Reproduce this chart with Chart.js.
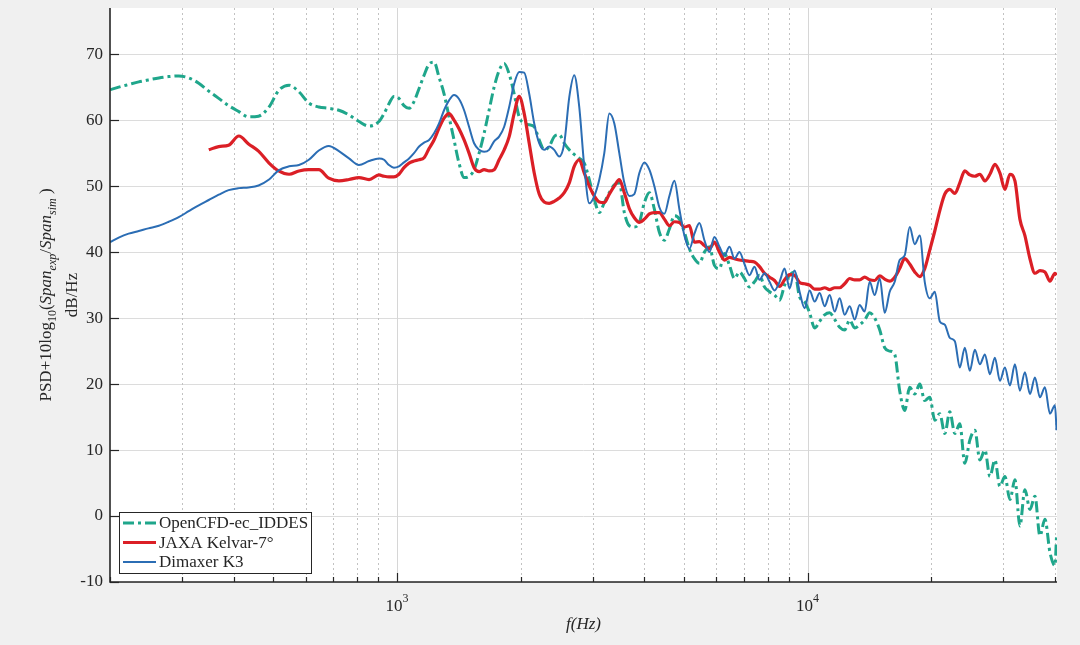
<!DOCTYPE html>
<html>
<head>
<meta charset="utf-8">
<script src="https://cdn.jsdelivr.net/npm/chart.js@4.4.0/dist/chart.umd.min.js"></script>
<style>
  html, body { margin: 0; padding: 0; background: #f0f0f0; }
  #wrap { width: 1080px; height: 645px; }
</style>
</head>
<body>
<div id="wrap"><canvas id="psdChart" width="1080" height="645"></canvas></div>
<script>
// frequency grid (Hz), shared by the three spectra
const freqHz = [
  200, 210, 222, 235, 248, 263, 278, 294, 311, 329, 348, 368, 389, 412, 435, 460, 488, 515, 546, 577,
  610, 645, 682, 722, 764, 808, 855, 904,
  930, 956, 983, 1011, 1040, 1070, 1100, 1132, 1164, 1197, 1231, 1266, 1302, 1339, 1377, 1416, 1457, 1498,
  1541, 1585, 1630, 1676, 1724, 1773, 1824, 1876, 1929, 1984, 2041, 2099, 2159, 2220, 2283, 2348, 2415,
  2484, 2555, 2628, 2702, 2779, 2858, 2940, 3024, 3110, 3198, 3289, 3383, 3479, 3578, 3680, 3785, 3893,
  4004, 4118, 4235, 4355, 4479, 4607, 4738, 4873, 5012, 5154, 5301, 5452, 5607, 5767, 5931, 6101, 6274,
  6453, 6637, 6823, 7019, 7219, 7425, 7638, 7855, 8079, 8309, 8547, 8790, 9040, 9298, 9562, 9835, 10115,
  10403, 10700, 11004, 11318, 11640, 11970, 12312, 12663, 13023, 13390, 13773, 14165, 14568, 14990, 15410,
  15850, 16300, 16760, 17240, 17730, 18240, 18760, 19290, 19840, 20410, 20990, 21590, 22200, 22840, 23480,
  24150, 24840, 25550, 26280, 27030, 27800, 28590, 29400, 30240, 31100, 31990, 32890, 33830, 34800, 35790,
  36800, 37850, 38930, 40040, 40400
];

const cfdPsd = [
  64.6, 65.0, 65.4, 65.8, 66.1, 66.4, 66.6, 66.7, 66.4, 65.6, 64.4, 63.3, 62.2, 61.3, 60.5, 60.6, 62.0, 64.5, 65.3, 64.3,
  62.6, 62.0, 61.8, 61.5, 60.8, 59.8, 59.1, 59.8,
  61.0, 62.5, 63.6, 63.3, 62.2, 61.8, 62.8, 64.8, 66.8, 68.5, 68.8, 66.5, 64.0, 60.5, 57.0, 53.5, 51.3, 51.5,
  52.5, 55.0, 58.0, 61.5, 65.0, 67.5, 68.6, 67.0, 64.0, 60.5, 59.5, 59.3, 59.0, 57.0, 55.5, 56.0, 57.5,
  57.8, 56.5, 55.5, 54.8, 54.2, 53.5, 51.0, 48.0, 46.0, 47.5, 49.0, 50.2, 50.5, 46.0, 44.0, 43.8, 44.5,
  47.5, 49.0, 46.5, 43.0, 41.8, 43.5, 45.5, 45.0, 43.0, 40.5, 39.0, 38.3, 40.0, 40.8, 38.0, 37.5, 39.8,
  38.0, 36.0, 37.0, 36.0, 34.7, 35.5, 36.5, 34.7, 34.0, 33.5, 32.7, 35.0, 36.5, 37.0, 33.2, 32.5, 30.8,
  28.5, 29.5, 30.5, 30.8, 29.8, 28.6, 28.2, 29.7, 28.5, 29.0, 29.7, 30.8, 30.0, 28.2, 25.5,
  25.0, 24.5, 19.0, 16.0, 19.5, 18.5, 20.0, 17.5, 18.0, 14.5, 15.5, 12.5, 15.8, 12.5, 14.0,
  8.0, 11.5, 13.0, 8.5, 10.0, 6.0, 8.5, 4.5, 6.0, 2.5, 5.5, -1.5, 4.0, 1.0, 3.0,
  -3.0, -0.5, -5.5, -7.5, -3.0
];

const jaxaPsd = [
  null, null, null, null, null, null, null, null, null, null, 55.5, 56.0, 56.2, 57.6, 56.4, 55.3, 53.5, 52.3, 51.8, 52.3,
  52.5, 52.5, 51.2, 50.8, 51.0, 51.3, 51.0, 51.7,
  51.5, 51.4, 51.4, 51.8, 52.8, 53.5, 53.8, 54.0, 54.3, 55.7, 57.0, 58.8, 60.3, 61.0, 60.0, 58.7, 57.0, 55.0,
  52.8, 52.2, 52.5, 52.3, 52.5, 54.0, 55.5, 57.5, 61.0, 63.6, 61.0, 56.5, 52.0, 48.8, 47.6, 47.4, 47.7,
  48.2, 49.0, 50.5, 53.0, 54.0, 52.0, 50.0, 48.5, 47.6, 47.5, 48.8, 50.0, 51.0, 49.0, 46.6, 45.2, 44.5,
  45.0, 45.8, 46.0, 46.0, 45.0, 44.0, 44.6, 44.5, 43.8, 44.0, 41.5, 41.6, 41.0, 40.5, 41.5, 40.0, 38.8,
  39.2, 39.0, 38.8, 38.7, 38.6, 38.5, 37.8, 36.8, 36.2, 35.7, 34.8, 35.8, 36.6, 36.5, 35.4, 35.2, 35.0,
  34.4, 34.4, 34.6, 34.3, 34.6, 34.6, 35.2, 36.0, 35.8, 35.8, 36.2, 35.8, 35.7, 36.4, 35.9,
  35.6, 36.2, 37.5, 39.0, 38.2, 37.0, 36.3, 37.5, 40.3, 43.2, 46.3, 48.8, 49.5, 48.9, 50.5,
  52.3, 51.7, 51.5, 51.8, 50.8, 51.8, 53.3, 52.0, 49.5, 51.8, 50.8, 45.0, 42.5, 39.0, 36.8,
  37.2, 37.0, 35.6, 36.8, 36.5
];

const dimaxerPsd = [
  41.5, 42.2, 42.8, 43.2, 43.6, 44.0, 44.6, 45.3, 46.2, 47.1, 47.9, 48.7, 49.4, 49.7, 49.8, 50.1, 51.0, 52.4, 53.0, 53.2,
  54.0, 55.4, 56.1, 55.3, 54.2, 53.2, 53.8, 54.2,
  54.0, 53.2, 52.8, 53.0, 53.6, 54.2, 55.0, 56.0, 56.6, 57.0, 58.0, 59.5, 61.5, 63.0, 63.8, 63.2, 61.5, 59.0,
  56.5, 55.5, 55.2, 55.5, 56.8, 57.5, 59.0, 62.0, 65.5, 67.3, 67.2, 64.0, 59.5, 56.5, 55.5, 56.0, 55.5,
  54.5, 56.5, 63.5, 66.8, 62.0, 53.0, 47.4, 48.5, 51.0, 55.0, 61.0, 59.5, 55.0, 50.5, 48.5, 48.8, 52.0,
  53.6, 52.5, 50.0, 46.8, 45.8, 48.5, 50.8, 46.5, 42.5, 40.5, 42.8, 44.4, 41.8, 40.0, 42.3, 40.8, 39.5,
  40.8, 39.0, 40.0, 38.2, 36.5, 37.8, 35.8, 36.8, 35.5, 34.2, 35.5, 37.5, 34.5, 37.2, 34.0, 31.5, 34.2,
  32.5, 33.8, 31.8, 33.5, 31.0, 33.0, 30.5, 31.8, 29.8, 32.0, 31.0, 35.5, 33.5, 36.0, 30.8,
  34.0, 35.5, 38.8, 39.5, 43.8, 41.2, 42.5, 35.5, 33.0, 34.0, 29.5, 29.0, 27.0, 26.5, 22.5,
  25.5, 22.0, 25.2, 23.0, 24.5, 21.5, 24.0, 20.5, 22.5, 19.8, 23.0, 19.0, 21.8, 18.5, 21.0,
  18.0, 19.5, 15.5, 16.8, 13.0
];

const seriesNames = ['OpenCFD-ec_IDDES', 'JAXA Kelvar-7°', 'Dimaxer K3'];
const yTickValues = [-10, 0, 10, 20, 30, 40, 50, 60, 70];
const xTickValues = [200, 300, 400, 500, 600, 700, 800, 900, 1000, 2000, 3000, 4000, 5000, 6000, 7000, 8000, 9000,
  10000, 20000, 30000, 40000];
const xMajorValues = [1000, 10000];

const SERIF = "'Liberation Serif', 'Times New Roman', serif";
const INK = '#262626';

function pairUp(vals) {
  return freqHz.map((f, i) => ({ x: f, y: vals[i] }));
}

// draws a run of text pieces (normal / italic / subscript) centred on 0
function drawPieces(ctx, pieces) {
  let total = 0;
  pieces.forEach(p => {
    ctx.font = (p.it ? 'italic ' : '') + p.size + 'px ' + SERIF;
    p.w = ctx.measureText(p.t).width;
    total += p.w;
  });
  let x = -total / 2;
  pieces.forEach(p => {
    ctx.font = (p.it ? 'italic ' : '') + p.size + 'px ' + SERIF;
    ctx.fillText(p.t, x, p.dy || 0);
    x += p.w;
  });
}

const decorPlugin = {
  id: 'decor',
  beforeDraw(chart) {
    const { ctx, chartArea: a } = chart;
    ctx.save();
    ctx.fillStyle = '#ffffff';
    ctx.fillRect(a.left, a.top, a.right - a.left, a.bottom - a.top);
    ctx.restore();
  },
  beforeDatasetsDraw(chart) {
    const { ctx, chartArea: a, scales: { x } } = chart;
    ctx.save();
    ctx.lineWidth = 1;
    xTickValues.forEach(f => {
      const px = Math.round(x.getPixelForValue(f)) + 0.5;
      if (px < a.left + 2) return;
      const major = xMajorValues.includes(f);
      ctx.strokeStyle = major ? '#d6d6d6' : '#c2c2c2';
      ctx.setLineDash(major ? [] : [2, 3]);
      ctx.beginPath();
      ctx.moveTo(px, a.top);
      ctx.lineTo(px, a.bottom);
      ctx.stroke();
    });
    ctx.restore();
  },
  afterDraw(chart) {
    const { ctx, chartArea: a, scales: { x, y } } = chart;
    ctx.save();

    // axes lines
    ctx.strokeStyle = INK;
    ctx.lineWidth = 1.6;
    ctx.beginPath();
    ctx.moveTo(a.left, a.top);
    ctx.lineTo(a.left, a.bottom);
    ctx.lineTo(a.right, a.bottom);
    ctx.stroke();

    // inner ticks
    ctx.lineWidth = 1.2;
    yTickValues.forEach(v => {
      const py = Math.round(y.getPixelForValue(v)) + 0.5;
      ctx.beginPath();
      ctx.moveTo(a.left, py);
      ctx.lineTo(a.left + 9, py);
      ctx.stroke();
    });
    xTickValues.forEach(f => {
      const px = Math.round(x.getPixelForValue(f)) + 0.5;
      const len = xMajorValues.includes(f) ? 9 : 5;
      ctx.beginPath();
      ctx.moveTo(px, a.bottom);
      ctx.lineTo(px, a.bottom - len);
      ctx.stroke();
    });

    // x tick labels 10^n
    ctx.fillStyle = INK;
    ctx.textBaseline = 'alphabetic';
    ctx.textAlign = 'left';
    xMajorValues.forEach(f => {
      const px = x.getPixelForValue(f);
      const exp = String(Math.round(Math.log10(f)));
      ctx.font = '17px ' + SERIF;
      const wBase = ctx.measureText('10').width;
      ctx.font = '12px ' + SERIF;
      const wExp = ctx.measureText(exp).width;
      const x0 = px - (wBase + wExp) / 2;
      ctx.font = '17px ' + SERIF;
      ctx.fillText('10', x0, 611);
      ctx.font = '12px ' + SERIF;
      ctx.fillText(exp, x0 + wBase, 602);
    });

    // x axis title
    ctx.save();
    ctx.translate((a.left + a.right) / 2, 629);
    drawPieces(ctx, [{ t: 'f(Hz)', size: 17, it: true }]);
    ctx.restore();

    // y axis title, two lines rotated
    ctx.save();
    ctx.translate(51, (a.top + a.bottom) / 2);
    ctx.rotate(-Math.PI / 2);
    drawPieces(ctx, [
      { t: 'PSD+10log', size: 17 },
      { t: '10', size: 12, dy: 5 },
      { t: '(', size: 17 },
      { t: 'Span', size: 17, it: true },
      { t: 'exp', size: 12, it: true, dy: 5 },
      { t: '/', size: 17 },
      { t: 'Span', size: 17, it: true },
      { t: 'sim', size: 12, it: true, dy: 5 },
      { t: ' )', size: 17 }
    ]);
    ctx.restore();
    ctx.save();
    ctx.translate(77, (a.top + a.bottom) / 2);
    ctx.rotate(-Math.PI / 2);
    drawPieces(ctx, [{ t: 'dB/Hz', size: 17 }]);
    ctx.restore();

    // legend box
    const lx = 119, ly = 512, lw = 192, lh = 61;
    ctx.fillStyle = '#ffffff';
    ctx.fillRect(lx, ly, lw, lh);
    ctx.strokeStyle = INK;
    ctx.lineWidth = 1;
    ctx.setLineDash([]);
    ctx.strokeRect(lx + 0.5, ly + 0.5, lw, lh);
    chart.data.datasets.forEach((ds, i) => {
      const ry = 523 + i * 19.5;
      ctx.strokeStyle = ds.borderColor;
      ctx.lineWidth = ds.borderWidth;
      ctx.setLineDash(ds.borderDash || []);
      ctx.beginPath();
      ctx.moveTo(123, ry);
      ctx.lineTo(156, ry);
      ctx.stroke();
      ctx.setLineDash([]);
      ctx.fillStyle = INK;
      ctx.font = '17px ' + SERIF;
      ctx.textBaseline = 'middle';
      ctx.textAlign = 'left';
      ctx.fillText(ds.label, 159, ry + 1);
    });

    ctx.restore();
  }
};

const ctx = document.getElementById('psdChart').getContext('2d');
const psdChart = new Chart(ctx, {
  type: 'line',
  data: {
    datasets: [
      {
        label: seriesNames[0],
        data: pairUp(cfdPsd),
        borderColor: '#1fa68b',
        borderWidth: 3,
        borderDash: [11, 4, 3, 4],
        order: 3
      },
      {
        label: seriesNames[1],
        data: pairUp(jaxaPsd),
        borderColor: '#db1f26',
        borderWidth: 3.2,
        order: 2
      },
      {
        label: seriesNames[2],
        data: pairUp(dimaxerPsd),
        borderColor: '#2b6db4',
        borderWidth: 2,
        order: 1
      }
    ]
  },
  options: {
    responsive: false,
    animation: false,
    elements: {
      point: { radius: 0 },
      line: { fill: false, cubicInterpolationMode: 'monotone' }
    },
    layout: { padding: { top: 8, right: 23, left: 0, bottom: 0 } },
    plugins: {
      legend: { display: false },
      tooltip: { enabled: false }
    },
    scales: {
      x: {
        type: 'logarithmic',
        min: 200,
        max: 40500,
        grid: { display: false },
        border: { display: false },
        ticks: { display: false },
        afterFit: scale => {
          scale.height = 63;
          scale.paddingLeft = 0;
          scale.paddingRight = 0;
        }
      },
      y: {
        type: 'linear',
        min: -10,
        max: 77,
        afterBuildTicks: scale => { scale.ticks = yTickValues.map(v => ({ value: v })); },
        grid: { color: '#dcdcdc', lineWidth: 1, drawTicks: false },
        border: { display: false },
        ticks: {
          font: { family: SERIF, size: 17 },
          color: INK,
          padding: 7
        },
        afterFit: scale => {
          scale.width = 110;
          scale.paddingTop = 0;
          scale.paddingBottom = 0;
        }
      }
    }
  },
  plugins: [decorPlugin]
});
</script>
</body>
</html>
